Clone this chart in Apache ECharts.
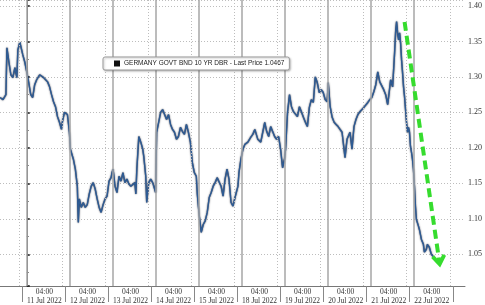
<!DOCTYPE html>
<html>
<head>
<meta charset="utf-8">
<script src="https://cdn.jsdelivr.net/npm/echarts@6/dist/echarts.min.js"></script>
<style>
  html, body { margin: 0; padding: 0; background: #fff; }
  #chart { width: 485px; height: 305px; }
</style>
</head>
<body>
<div id="chart"></div>
<script>
// Time axis: trading-day index (0 = start of 11 Jul 2022 session, fractional = intraday)
const dayPos = [-0.622,-0.553,-0.484,-0.461,-0.415,-0.369,-0.323,-0.276,-0.230,-0.207,-0.161,-0.115,-0.092,-0.046,0,0.046,0.092,0.138,0.184,0.230,0.300,0.346,0.392,0.438,0.484,0.530,0.576,0.622,0.668,0.714,0.760,0.806,0.829,0.876,0.922,0.945,0.991,1.014,1.083,1.129,1.175,1.198,1.221,1.267,1.313,1.359,1.406,1.452,1.498,1.544,1.590,1.636,1.682,1.728,1.774,1.820,1.866,1.912,1.959,1.982,2.005,2.051,2.097,2.143,2.189,2.235,2.281,2.327,2.373,2.419,2.465,2.512,2.535,2.558,2.604,2.650,2.696,2.719,2.765,2.788,2.834,2.880,2.926,2.972,2.995,3.018,3.065,3.111,3.157,3.203,3.249,3.295,3.341,3.387,3.433,3.479,3.525,3.571,3.618,3.664,3.710,3.756,3.802,3.848,3.894,3.940,3.963,4.009,4.055,4.101,4.147,4.194,4.240,4.286,4.332,4.378,4.424,4.470,4.516,4.562,4.608,4.654,4.700,4.747,4.793,4.839,4.885,4.908,4.931,4.977,5.023,5.069,5.138,5.207,5.253,5.300,5.369,5.438,5.484,5.530,5.576,5.622,5.668,5.714,5.760,5.806,5.853,5.899,5.945,5.991,6.014,6.060,6.106,6.152,6.198,6.244,6.290,6.336,6.382,6.429,6.475,6.521,6.567,6.613,6.659,6.705,6.751,6.797,6.843,6.889,6.935,6.982,7.005,7.051,7.097,7.143,7.189,7.235,7.281,7.327,7.373,7.396,7.442,7.512,7.558,7.604,7.650,7.696,7.742,7.788,7.834,7.880,7.926,7.972,8.018,8.065,8.111,8.157,8.203,8.249,8.295,8.341,8.387,8.410,8.456,8.502,8.548,8.571,8.594,8.618,8.641,8.664,8.687,8.710,8.733,8.756,8.779,8.802,8.825,8.848,8.871,8.894,8.917,8.940,8.963,8.986,9.009,9.032,9.055,9.101,9.124,9.171,9.217,9.240,9.286,9.309,9.355,9.401,9.447];

const yieldVals = [1.271,1.268,1.275,1.341,1.321,1.303,1.299,1.313,1.299,1.338,1.349,1.348,1.331,1.321,1.307,1.292,1.275,1.271,1.289,1.296,1.303,1.304,1.299,1.296,1.293,1.286,1.275,1.265,1.258,1.244,1.236,1.226,1.237,1.250,1.248,1.247,1.222,1.198,1.184,1.170,1.146,1.095,1.128,1.116,1.123,1.116,1.120,1.135,1.146,1.151,1.142,1.128,1.116,1.109,1.120,1.128,1.132,1.153,1.158,1.165,1.170,1.146,1.137,1.160,1.153,1.165,1.151,1.156,1.149,1.146,1.144,1.151,1.135,1.170,1.216,1.208,1.198,1.188,1.160,1.123,1.151,1.156,1.151,1.142,1.137,1.222,1.236,1.250,1.254,1.247,1.240,1.247,1.233,1.226,1.222,1.212,1.216,1.229,1.223,1.219,1.233,1.222,1.208,1.179,1.165,1.160,1.135,1.104,1.081,1.092,1.097,1.109,1.130,1.137,1.146,1.151,1.158,1.160,1.146,1.132,1.156,1.170,1.156,1.123,1.118,1.130,1.132,1.146,1.165,1.184,1.198,1.205,1.208,1.215,1.219,1.226,1.212,1.208,1.222,1.236,1.223,1.216,1.230,1.223,1.216,1.212,1.216,1.198,1.172,1.184,1.198,1.250,1.275,1.258,1.251,1.250,1.244,1.258,1.251,1.243,1.236,1.230,1.257,1.268,1.264,1.300,1.292,1.278,1.282,1.278,1.268,1.265,1.292,1.258,1.243,1.236,1.233,1.230,1.229,1.222,1.198,1.186,1.212,1.222,1.198,1.230,1.240,1.247,1.251,1.250,1.257,1.258,1.264,1.268,1.271,1.279,1.289,1.307,1.293,1.292,1.282,1.275,1.261,1.272,1.296,1.286,1.334,1.363,1.378,1.362,1.352,1.362,1.348,1.324,1.306,1.286,1.272,1.254,1.236,1.222,1.229,1.222,1.202,1.194,1.184,1.170,1.146,1.118,1.099,1.090,1.085,1.071,1.064,1.053,1.057,1.064,1.060,1.050,1.047];

const dayLabels = ['11 Jul 2022','12 Jul 2022','13 Jul 2022','14 Jul 2022','15 Jul 2022','18 Jul 2022','19 Jul 2022','20 Jul 2022','21 Jul 2022','22 Jul 2022'];
const timeLabel = '04:00';
const seriesName = 'GERMANY GOVT BND 10 YR DBR - Last Price 1.0467';
const lastPrice = 1.0467;
// annotation arrow (time, yield) start and end
const arrowStart = [8.78, 1.3775];
const arrowEnd = [9.585, 1.0404];

const FONT = "'Liberation Sans Narrow', 'Liberation Sans', sans-serif";
const AXFONT = "'Liberation Serif', 'DejaVu Serif', serif";

const seriesData = dayPos.map((t, i) => [t, yieldVals[i]]);
const sessionLines = dayLabels.map((_, i) => i);
const dottedLines = dayLabels.concat(['']).map((_, i) => i - 0.17);
const tickVals = dayLabels.concat(['']).map((_, i) => i - 0.1);
const labelVals = dayLabels.map((_, i) => i + 0.41);

const vLines = sessionLines.map(v => ({ xAxis: v, lineStyle: { type: 'solid', color: '#a6a6a6', width: 1.5 } }))
  .concat(dottedLines.map(v => ({ xAxis: v, lineStyle: { type: [1, 2], color: '#bdbdbd', width: 1 } })));

const chevron = 'path://M5,0 L10,7.5 L7.8,9 L5,4.6 L2.2,9 L0,7.5 Z';

const chart = echarts.init(document.getElementById('chart'), null, { renderer: 'canvas' });
chart.setOption({
  animation: false,
  backgroundColor: '#fff',
  grid: { left: 0, right: 16, top: 0, bottom: 18, containLabel: false },
  legend: {
    z: 20, zlevel: 0,
    left: 103, top: 57,
    data: [{ name: seriesName, icon: 'rect', itemStyle: { color: '#111' } }],
    itemWidth: 6, itemHeight: 6, itemGap: 0,
    padding: [3, 5, 3, 11],
    backgroundColor: '#fff', borderColor: '#9a9a9a', borderWidth: 1, borderRadius: 2,
    shadowColor: 'rgba(0,0,0,0.25)', shadowBlur: 2, shadowOffsetX: 1, shadowOffsetY: 1,
    textStyle: { fontSize: 6.5, color: '#222', fontFamily: FONT, padding: [0, 0, 0, -1] },
    selectedMode: false
  },
  xAxis: {
    type: 'value', min: -0.622, max: 10.184,
    axisLine: { show: true, lineStyle: { color: '#777', width: 1 } },
    axisTick: { show: true, customValues: tickVals, length: 16, lineStyle: { color: '#888' } },
    axisLabel: {
      customValues: labelVals,
      formatter: v => timeLabel + '\n' + dayLabels[Math.round(v - 0.41)],
      fontSize: 7.5, lineHeight: 8.5, color: '#333', fontFamily: AXFONT, margin: 2
    },
    splitLine: { show: false }
  },
  yAxis: {
    type: 'value', position: 'right', min: 1.0053, max: 1.4084, splitNumber: 8,
    axisLine: { show: true, lineStyle: { color: '#666', width: 1 } },
    axisTick: { show: true, length: 3, inside: false, lineStyle: { color: '#111', width: 1.5 } },
    minorTick: { show: true, splitNumber: 2, length: 2, lineStyle: { color: '#666' } },
    axisLabel: { showMinLabel: false, showMaxLabel: false, formatter: v => v.toFixed(2), fontSize: 8, color: '#333', fontFamily: AXFONT, margin: 3 },
    splitLine: { show: true, lineStyle: { type: [1, 2], color: '#bdbdbd', width: 1 } }
  },
  series: [
    {
      name: 'gridlines', type: 'line', data: [], z: 1, silent: true,
      markLine: { silent: true, symbol: ['none', 'none'], label: { show: false }, animation: false, data: vLines }
    },
    {
      name: seriesName, type: 'line', data: seriesData, z: 3,
      showSymbol: false, symbol: 'none',
      lineStyle: { color: '#2d5b94', width: 1.4, shadowColor: 'rgba(0,0,20,0.9)', shadowBlur: 1.5 },
      markLine: {
        silent: true, animation: false, symbol: ['none', 'none'],
        data: [
          { yAxis: lastPrice, lineStyle: { opacity: 0 },
            label: { show: true, position: 'end', distance: 1, formatter: lastPrice.toFixed(4),
              backgroundColor: '#111', color: '#fff', fontSize: 7.5, fontFamily: FONT, padding: [2, 3, 1, 3], borderRadius: 3 } },
          [ { coord: arrowStart, symbol: 'none' },
            { coord: arrowEnd, symbol: chevron, symbolSize: [15, 13],
              lineStyle: { color: '#36dc2e', width: 4, type: [9, 5] }, label: { show: false } } ]
        ]
      }
    }
  ]
});
</script>
</body>
</html>
